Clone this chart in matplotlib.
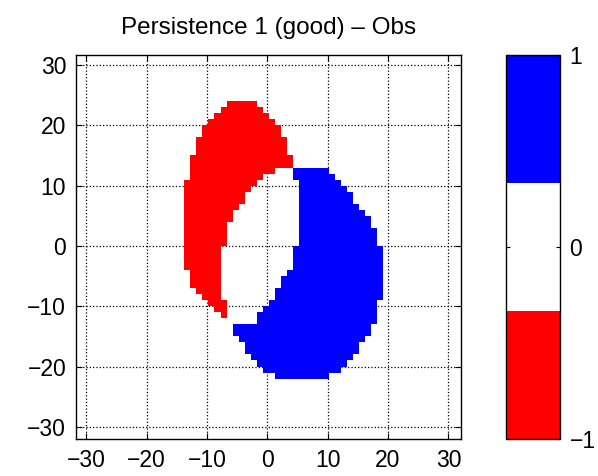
import numpy as np
import matplotlib
matplotlib.use("Agg")
import matplotlib.pyplot as plt
from matplotlib.colors import ListedColormap

plt.rcParams['font.family'] = ['Liberation Sans', 'DejaVu Sans']

# rows of the field, given by the top edge of each 1-unit row
red_top = list(range(24, -12, -1))
red_left = [-7, -8, -9, -10, -11, -11, -12, -12, -12, -13, -13, -13, -13,
            -14, -14, -14, -14, -14, -14, -14, -14, -14, -14, -14, -14, -14,
            -14, -14, -13, -13, -13, -12, -11, -10, -9, -8]
red_right = [-2, -1, 0, 1, 2, 2, 3, 3, 3, 4, 4, 1, -1, -2,
             -3, -4, -4, -5, -6, -6, -7, -7, -7, -7,
             -8, -8, -8, -8, -8, -8, -8, -8, -8, -7, -7, -7]

blue_top = list(range(13, -22, -1))
blue_left = [4, 4, 5, 5, 5, 5, 5, 5, 5, 5, 5, 5, 5, 4, 4, 4, 4, 3, 2, 2,
             1, 1, 0, -1, -2, -2, -6, -6, -5, -4, -4, -3, -2, -1, 1]
blue_right = [10, 11, 12, 13, 14, 14, 15, 16, 17, 17, 18, 18, 18, 19, 19, 19,
              19, 19, 19, 19, 19, 19, 18, 18, 18, 18, 17, 17, 16, 15, 15, 14,
              13, 12, 10]

title = "Persistence 1 (good) \u2013 Obs"
ticks = [-30, -20, -10, 0, 10, 20, 30]

# build the -1/0/1 field on a 1-unit grid
x_edges = np.arange(-32, 33) + 0.25
y_edges = np.arange(-32, 33)
field = np.zeros((64, 64))
for top, l, r in zip(red_top, red_left, red_right):
    field[top - 1 + 32, l + 32:r + 32] = -1
for top, l, r in zip(blue_top, blue_left, blue_right):
    field[top - 1 + 32, l + 32:r + 32] = 1
field = np.ma.masked_equal(field, 0)  # zeros stay empty, grid shows through

cmap = ListedColormap(['#ff0000', '#ffffff', '#0000ff'])

fig = plt.figure(figsize=(5.98, 4.76), dpi=100)
ax = fig.add_axes([0.127, 0.078, 0.644, 0.807])
mesh = ax.pcolormesh(x_edges, y_edges, field, cmap=cmap, vmin=-1, vmax=1)
ax.set_xlim(-31.7, 32.1)
ax.set_ylim(-32.0, 31.7)
ax.set_xticks(ticks)
ax.set_yticks(ticks)
ax.set_axisbelow(True)
ax.grid(True, color='k', linestyle=':', linewidth=0.9)
ax.tick_params(direction='in', top=True, right=True, length=4,
               labelsize=16.5, pad=7)
for s in ax.spines.values():
    s.set_linewidth(1.0)
ax.set_title(title, fontsize=17.5, pad=15)

cax = fig.add_axes([0.846, 0.078, 0.090, 0.807])
cb = fig.colorbar(mesh, cax=cax, ticks=[-1, 0, 1])
cb.outline.set_linewidth(1.0)
cax.tick_params(direction='in', left=True, right=True, length=3,
                labelsize=16.5, pad=7)

fig.savefig("out.png", dpi=100)
